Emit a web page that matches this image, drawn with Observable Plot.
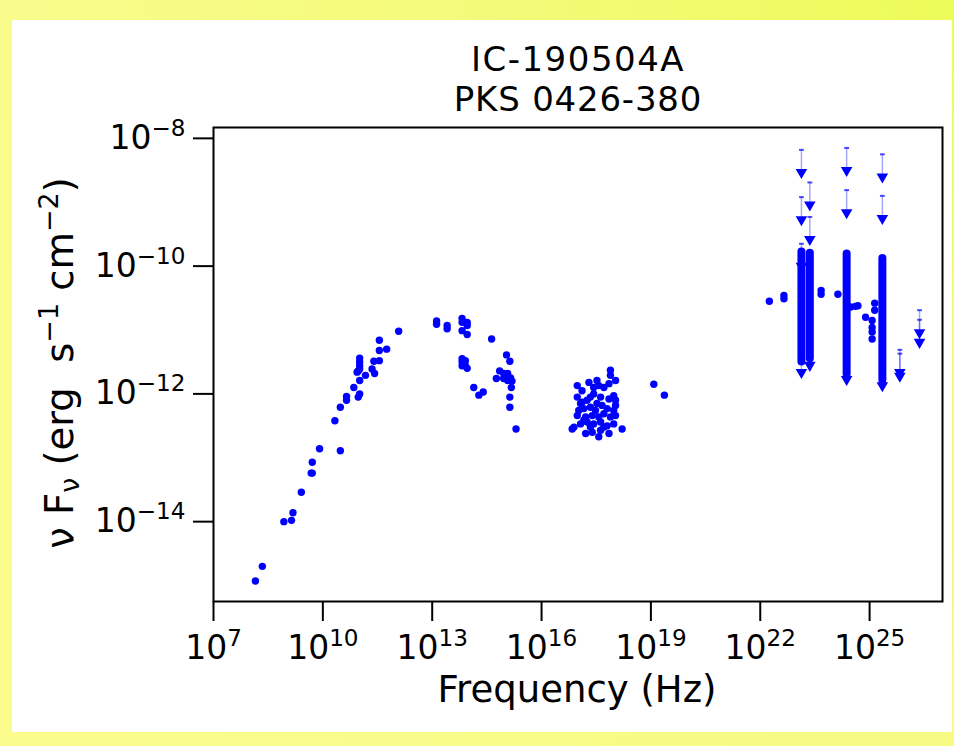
<!DOCTYPE html>
<html><head><meta charset="utf-8">
<script src="https://cdn.jsdelivr.net/npm/d3@7"></script>
<script src="https://cdn.jsdelivr.net/npm/@observablehq/plot@0.6"></script>
<style>
html,body{margin:0;padding:0;}
#wrap{position:relative;width:954px;height:746px;overflow:hidden;
  background:radial-gradient(circle at 100% 0%, #ecfc58 0%, #f3fa78 35%, #f9fc8a 75%, #fbfc8c 100%);}
#panel{position:absolute;left:12px;top:20px;width:940px;height:712px;background:#fff;}
#chart{position:absolute;left:0;top:0;}
</style></head>
<body><div id="wrap"><div id="panel"></div><div id="chart"></div></div>
<script>
// ---- text ----
const titleLines = ["IC-190504A", "PKS 0426-380"];
const xLabel = "Frequency (Hz)";
// ---- axes (exponents of 10) ----
const xTickExps = [7, 10, 13, 16, 19, 22, 25];
const yTickExps = [-8, -10, -12, -14];
const xDomainExps = [7, 27];
const yDomainExps = [-15.25, -7.83];

// ---- data: log10(frequency / Hz), log10(nuFnu / erg s^-1 cm^-2) ----
const radioLogNu   = [8.15, 8.34, 8.93, 9.14, 9.18, 9.41, 9.68, 9.71, 9.71, 9.91, 10.48, 10.33, 10.48, 10.65, 10.65, 10.85, 10.97, 11.01, 11.01, 10.94, 11.01, 11.01, 11.01, 11.01, 10.97, 11.17, 11.35, 11.42, 11.40, 11.55, 11.55, 11.75, 11.55, 12.08];
const radioLogFlux = [-14.93, -14.70, -14.00, -13.98, -13.86, -13.54, -13.24, -13.24, -13.07, -12.86, -12.89, -12.42, -12.21, -12.10, -12.04, -11.90, -12.05, -12.00, -11.79, -11.66, -11.61, -11.56, -11.50, -11.44, -11.64, -11.71, -11.61, -11.68, -11.49, -11.48, -11.32, -11.30, -11.16, -11.02];

const optLogNu   = [13.12, 13.12, 13.41, 13.41, 13.82, 13.82, 13.82, 13.96, 13.96, 13.96, 13.82, 13.82, 13.82, 13.91, 13.91, 13.96, 14.63, 15.04, 15.13, 14.85, 14.76, 14.96, 15.07, 15.15, 15.07, 15.19, 14.96, 15.17, 14.14, 14.40, 14.28, 15.13, 15.13, 15.30];
const optLogFlux = [-10.86, -10.91, -10.93, -10.98, -10.82, -10.88, -11.01, -10.88, -10.93, -11.07, -11.45, -11.50, -11.56, -11.48, -11.56, -11.60, -11.14, -11.39, -11.49, -11.64, -11.76, -11.68, -11.68, -11.75, -11.79, -11.80, -11.76, -11.90, -11.90, -11.97, -12.02, -12.05, -12.21, -12.55];

const xrayLogNu   = [17.89, 17.89, 18.03, 16.98, 17.11, 17.30, 17.43, 17.57, 17.71, 17.85, 16.98, 17.11, 17.25, 17.43, 17.62, 17.85, 17.98, 18.03, 17.02, 17.16, 17.34, 17.48, 17.66, 17.80, 17.98, 16.98, 17.21, 17.39, 17.57, 17.71, 17.89, 18.03, 16.89, 17.07, 17.25, 17.43, 17.62, 17.80, 17.98, 16.84, 17.21, 17.39, 17.57, 17.85, 18.21, 17.62, 17.16, 17.52, 17.34, 17.71, 17.07, 18.03, 17.52, 17.34, 19.08, 19.37];
const xrayLogFlux = [-11.63, -11.71, -11.79, -11.87, -11.95, -11.82, -11.90, -11.87, -11.90, -11.84, -12.05, -12.13, -12.10, -12.00, -12.05, -12.08, -12.03, -12.10, -12.26, -12.23, -12.21, -12.26, -12.18, -12.23, -12.26, -12.34, -12.36, -12.34, -12.36, -12.31, -12.36, -12.34, -12.52, -12.47, -12.44, -12.47, -12.44, -12.50, -12.47, -12.55, -12.62, -12.60, -12.67, -12.62, -12.55, -12.57, -12.41, -12.15, -12.52, -12.52, -12.15, -12.18, -11.79, -12.05, -11.85, -12.02];

const gammaLogNu   = [22.25, 22.65, 22.65, 23.67, 23.67, 24.13, 24.48, 24.61, 24.68, 24.89, 25.07, 25.07, 25.07, 25.07, 25.14, 25.14];
const gammaLogFlux = [-10.55, -10.46, -10.51, -10.38, -10.44, -10.44, -10.64, -10.63, -10.62, -10.80, -10.85, -10.96, -11.03, -11.14, -10.58, -10.69];

// dense light-curve bins: each column spans a flux range at one frequency
const columnLogNu   = [23.13, 23.36, 24.37, 25.35];
const columnLogTop  = [-9.78, -9.80, -9.81, -9.88];
const columnLogBot  = [-11.50, -11.45, -11.70, -11.79];

// upper limits
const ulLogNu   = [23.13, 23.13, 23.13, 23.13, 23.36, 23.36, 23.36, 24.37, 24.37, 24.37, 25.35, 25.35, 25.35, 25.83, 25.83, 26.37, 26.37];
const ulLogFlux = [-8.18, -8.92, -9.65, -11.31, -8.69, -9.23, -11.20, -8.15, -8.81, -11.42, -8.25, -8.90, -11.52, -11.31, -11.37, -10.69, -10.84];

// ---- build tables ----
const p10 = v => Math.pow(10, v);
const points = [
  ...radioLogNu.map((v, i) => ({nu: p10(v), f: p10(radioLogFlux[i])})),
  ...optLogNu.map((v, i) => ({nu: p10(v), f: p10(optLogFlux[i])})),
  ...xrayLogNu.map((v, i) => ({nu: p10(v), f: p10(xrayLogFlux[i])})),
  ...gammaLogNu.map((v, i) => ({nu: p10(v), f: p10(gammaLogFlux[i])}))
];
const columns = columnLogNu.map((v, i) => ({nu: p10(v), top: p10(columnLogTop[i]), bot: p10(columnLogBot[i])}));
const uls = ulLogNu.map((v, i) => ({nu: p10(v), f: p10(ulLogFlux[i])}));
const ulFactor = 0.4;   // arrow length (matplotlib uplims)
const blue = "#0000ff";

const dashSymbol = {draw(ctx, size) { const w = Math.sqrt(size / Math.PI) * 1.2; ctx.moveTo(-w, 0); ctx.lineTo(w, 0); }};

const expFmt = d => "10^" + Math.round(Math.log10(d));

const svg = Plot.plot({
  width: 954, height: 746,
  marginLeft: 213, marginRight: 12, marginTop: 127, marginBottom: 145,
  style: {background: "transparent", fontFamily: "'DejaVu Sans', sans-serif", fontSize: "33px", color: "black", overflow: "visible"},
  x: {type: "log", domain: xDomainExps.map(p10)},
  y: {type: "log", domain: yDomainExps.map(p10)},
  marks: [
    Plot.axisX({ticks: xTickExps.map(p10), tickFormat: expFmt, tickSize: 20, tickPadding: 14, strokeWidth: 2, label: null}),
    Plot.axisY({ticks: yTickExps.map(p10), tickFormat: expFmt, tickSize: 20, tickPadding: 8, strokeWidth: 2, label: null}),
    Plot.ruleX(columns, {x: "nu", y1: "bot", y2: "top", stroke: blue, strokeWidth: 8, strokeLinecap: "round"}),
    Plot.ruleX(uls, {x: "nu", y1: "f", y2: d => d.f * ulFactor, stroke: blue, strokeOpacity: 0.35, strokeWidth: 1.5}),
    Plot.dot(uls, {x: "nu", y: "f", symbol: dashSymbol, r: 2, stroke: blue, strokeOpacity: 0.7, strokeWidth: 2, fill: "none"}),
    Plot.dot(uls, {x: "nu", y: d => d.f * ulFactor, symbol: "triangle", rotate: 180, r: 4.3, fill: blue, stroke: "none", dy: -3}),
    Plot.dot(points, {x: "nu", y: "f", r: 3.7, fill: blue, stroke: "none"}),
    Plot.frame({stroke: "black", strokeWidth: 2})
  ]
});

const ns = "http://www.w3.org/2000/svg";
function rewrite(selector, supDy) {
  svg.querySelectorAll(selector).forEach(t => {
    const parts = t.textContent.split("^");
    if (parts.length < 2) return;
    t.textContent = "";
    const a = document.createElementNS(ns, "tspan"); a.textContent = parts[0]; t.appendChild(a);
    const b = document.createElementNS(ns, "tspan"); b.textContent = parts[1].replace("-", "\u2212");
    b.setAttribute("dy", supDy); b.style.fontSize = "70%"; t.appendChild(b);
  });
}
rewrite('g[aria-label="x-axis tick label"] text', "-13");
rewrite('g[aria-label="y-axis tick label"] text', "-13");

const s = d3.select(svg);
s.append("text").attr("x", 578).attr("y", 71).attr("text-anchor", "middle").attr("font-size", 34)
  .attr("letter-spacing", 1.5).attr("fill", "black").text(titleLines[0]);
s.append("text").attr("x", 578).attr("y", 111).attr("text-anchor", "middle").attr("font-size", 34)
  .attr("letter-spacing", 0.8).attr("fill", "black").text(titleLines[1]);
s.append("text").attr("x", 577).attr("y", 702).attr("text-anchor", "middle").attr("font-size", 37).attr("fill", "black").text(xLabel);

const yl = s.append("text").attr("transform", "translate(73,363) rotate(-90)").attr("text-anchor", "middle")
  .attr("font-size", 38.5).attr("fill", "black").style("white-space", "pre");
yl.append("tspan").text("\u03bd F");
yl.append("tspan").attr("dy", 6).style("font-size", "70%").text("\u03bd");
yl.append("tspan").attr("dy", -6).text(" (erg  s");
yl.append("tspan").attr("dy", -15).style("font-size", "70%").text("\u22121");
yl.append("tspan").attr("dy", 15).text(" cm");
yl.append("tspan").attr("dy", -15).style("font-size", "70%").text("\u22122");
yl.append("tspan").attr("dy", 15).text(")");

document.getElementById("chart").appendChild(svg);
</script>
</body></html>
